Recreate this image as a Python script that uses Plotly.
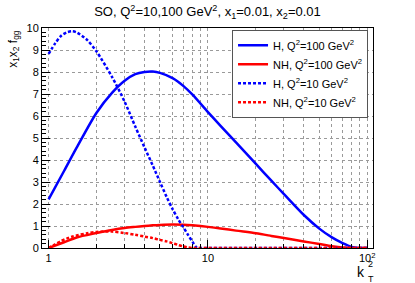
import plotly.graph_objects as go

# kT^2 grid for Q^2 = 100 GeV^2 curves
k_100 = [1, 1.25, 1.5, 2, 2.5, 3, 3.5, 4, 4.5, 5, 6, 7, 8, 10, 12, 15, 20, 25, 30, 40, 50, 60, 70, 80, 90, 100]
h_100 = [2.21, 3.5, 4.56, 6.15, 7.05, 7.6, 7.9, 8.0, 8.02, 7.96, 7.72, 7.37, 6.97, 6.18, 5.55, 4.8, 3.82,
         3.06, 2.45, 1.5, 0.88, 0.48, 0.22, 0.05, 0, 0]
nh_100 = [0, 0.26, 0.48, 0.68, 0.82, 0.91, 0.96, 1.0, 1.03, 1.05, 1.07, 1.06, 1.03, 0.96, 0.89, 0.79, 0.67,
          0.55, 0.45, 0.3, 0.18, 0.08, 0.02, 0, 0, 0]

# kT^2 grid for Q^2 = 10 GeV^2 curves
k_10 = [1, 1.1, 1.2, 1.3, 1.4, 1.5, 1.75, 2, 2.5, 3, 3.5, 4, 4.5, 5, 5.5, 6, 6.5, 7, 7.5, 8, 8.5,
        9, 10, 20, 50, 100]
h_10 = [8.82, 9.3, 9.65, 9.8, 9.85, 9.8, 9.45, 8.93, 7.78, 6.65, 5.52, 4.57, 3.76, 3.0, 2.33, 1.77,
        1.31, 0.95, 0.6, 0.28, 0.02, 0, 0, 0, 0, 0]
nh_10 = [0, 0.17, 0.32, 0.43, 0.51, 0.57, 0.67, 0.73, 0.745, 0.68, 0.6, 0.52, 0.45, 0.37, 0.3, 0.22,
         0.14, 0.07, 0.03, 0, 0, 0, 0, 0, 0, 0]

x_ticks = [1, 10, 100]
x_ticktext = ["1", "10", "10<sup>2</sup>"]
x_minor = [2, 3, 4, 5, 6, 7, 8, 9, 20, 30, 40, 50, 60, 70, 80, 90]
y_ticks = list(range(0, 11))

FONT = "Liberation Sans, Arial, sans-serif"

fig = go.Figure()
fig.add_trace(go.Scatter(x=k_100, y=h_100, mode="lines", name="H, Q<sup>2</sup>=100 GeV<sup>2</sup>",
                         line=dict(color="#0000ff", width=2.5, shape="spline", smoothing=0.8)))
fig.add_trace(go.Scatter(x=k_100, y=nh_100, mode="lines", name="NH, Q<sup>2</sup>=100 GeV<sup>2</sup>",
                         line=dict(color="#ff0000", width=2.5, shape="spline", smoothing=0.8)))
fig.add_trace(go.Scatter(x=k_10, y=h_10, mode="lines", name="H, Q<sup>2</sup>=10 GeV<sup>2</sup>",
                         line=dict(color="#0000ff", width=2.5, dash="3px,2px", shape="spline", smoothing=0.8)))
fig.add_trace(go.Scatter(x=k_10, y=nh_10, mode="lines", name="NH, Q<sup>2</sup>=10 GeV<sup>2</sup>",
                         line=dict(color="#ff0000", width=2.5, dash="3px,2px", shape="spline", smoothing=0.8)))

fig.update_layout(
    width=415, height=283,
    margin=dict(l=42, r=42, t=28, b=35),
    paper_bgcolor="white", plot_bgcolor="white",
    font=dict(family=FONT, size=11, color="black"),
    title=dict(text="SO, Q<sup>2</sup>=10,100 GeV<sup>2</sup>, x<sub>1</sub>=0.01, x<sub>2</sub>=0.01",
               x=0.5, xanchor="center", y=0.958, yanchor="middle", font=dict(size=13)),
    showlegend=True,
    legend=dict(x=0.985, y=0.992, xanchor="right", yanchor="top", bgcolor="white",
                bordercolor="#555555", borderwidth=1, font=dict(size=11), itemwidth=30),
    xaxis=dict(type="log", range=[-0.0414, 2.036], tickvals=x_ticks, ticktext=x_ticktext,
               ticks="inside", ticklen=8, tickcolor="black", showline=True, linecolor="black",
               linewidth=1, mirror=True, showgrid=True, gridcolor="#9a9a9a", griddash="dot",
               gridwidth=1, zeroline=False, tickfont=dict(size=11),
               minor=dict(tickvals=x_minor, ticks="inside", ticklen=4, tickcolor="black",
                          showgrid=True, gridcolor="#9a9a9a", griddash="dot", gridwidth=1)),
    yaxis=dict(range=[0, 10], tickvals=y_ticks, ticks="inside", ticklen=8, tickcolor="black",
               showline=True, linecolor="black", linewidth=1, mirror=True, showgrid=True,
               gridcolor="#9a9a9a", griddash="dot", gridwidth=1, zeroline=False,
               tickfont=dict(size=11),
               minor=dict(dtick=0.2, ticks="inside", ticklen=4, tickcolor="black", showgrid=False)),
)

# axis titles placed at the axis ends (ROOT style)
fig.add_annotation(text="x<sub>1</sub>x<sub>2</sub> f<sub>gg</sub>", textangle=-90,
                   xref="paper", yref="paper", x=-0.085, y=1.0, xanchor="center", yanchor="top",
                   showarrow=False, font=dict(size=12))
fig.add_annotation(text="k", xref="paper", yref="paper", x=0.982, y=-0.108, xanchor="right",
                   yanchor="middle", showarrow=False, font=dict(size=14))
fig.add_annotation(text="2", xref="paper", yref="paper", x=0.979, y=-0.074, xanchor="left",
                   yanchor="middle", showarrow=False, font=dict(size=9))
fig.add_annotation(text="T", xref="paper", yref="paper", x=0.979, y=-0.141, xanchor="left",
                   yanchor="middle", showarrow=False, font=dict(size=9))

fig.write_html("out.html", config={"displayModeBar": False},
               post_script="document.body.style.margin='0px';")
